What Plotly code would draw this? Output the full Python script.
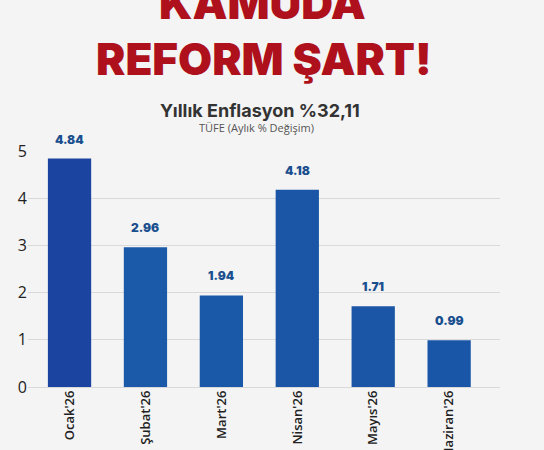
import plotly.graph_objects as go

categories = ["Ocak'26", "Şubat'26", "Mart'26", "Nisan'26", "Mayıs'26", "Haziran'26"]
values = [4.84, 2.96, 1.94, 4.18, 1.71, 0.99]
value_labels = ["4.84", "2.96", "1.94", "4.18", "1.71", "0.99"]
bar_colors = ["#1b44a0", "#1a5aa8", "#1a58a8", "#1a55a6", "#1a55a6", "#1a56a8"]

W, H = 544, 450
L, R, T, B = 28, 44, 151, 63
ph = H - T - B

def py(ypx):
    return (H - B - ypx) / ph

fig = go.Figure()
fig.add_trace(go.Bar(
    x=categories, y=values,
    marker=dict(color=bar_colors, line=dict(width=0)),
    width=0.57,
    hoverinfo="skip",
))

annotations = []
for c, v, t in zip(categories, values, value_labels):
    annotations.append(dict(x=c, y=v, xref="x", yref="y", text=t, showarrow=False,
                            yanchor="bottom", yshift=10,
                            font=dict(family="Inter", size=12, color="#1a4f8f", weight=900)))

title_font = dict(family="Inter", size=44, color="#ae111c", weight=900)
annotations += [
    dict(x=0.5, y=py(3), xref="paper", yref="paper", text="KAMUDA", showarrow=False,
         xanchor="center", yanchor="middle", xshift=-2, font=title_font),
    dict(x=0.5, y=py(59), xref="paper", yref="paper", text="REFORM ŞART!", showarrow=False,
         xanchor="center", yanchor="middle", xshift=0, font=title_font),
    dict(x=0.5, y=py(110), xref="paper", yref="paper", text="Yıllık Enflasyon %32,11", showarrow=False,
         xanchor="center", yanchor="middle", xshift=-4,
         font=dict(family="Inter", size=18, color="#333333", weight=700)),
    dict(x=0.5, y=py(127), xref="paper", yref="paper", text="TÜFE (Aylık % Değişim)", showarrow=False,
         xanchor="center", yanchor="middle", xshift=-8,
         font=dict(family="Open Sans", size=11, color="#555555")),
]

fig.update_layout(
    width=W, height=H,
    margin=dict(l=L, r=R, t=T, b=B, autoexpand=False),
    paper_bgcolor="#f4f4f4",
    plot_bgcolor="#f4f4f4",
    showlegend=False,
    annotations=annotations,
    bargap=0.43,
)
fig.update_xaxes(
    type="category", range=[-0.547, 5.67], automargin=False,
    tickangle=-90, showgrid=False, showline=False, ticks="",
    tickfont=dict(family="Open Sans", size=13, color="#222222", weight=600),
)
fig.update_yaxes(
    range=[0, 5], dtick=1, showgrid=True, gridcolor="#d9d9d9", gridwidth=1, automargin=False,
    zeroline=True, zerolinecolor="#d9d9d9", zerolinewidth=1, showline=False, ticks="",
    tickfont=dict(family="Open Sans", size=16, color="#222222"),
)
fig.write_html("out.html")
